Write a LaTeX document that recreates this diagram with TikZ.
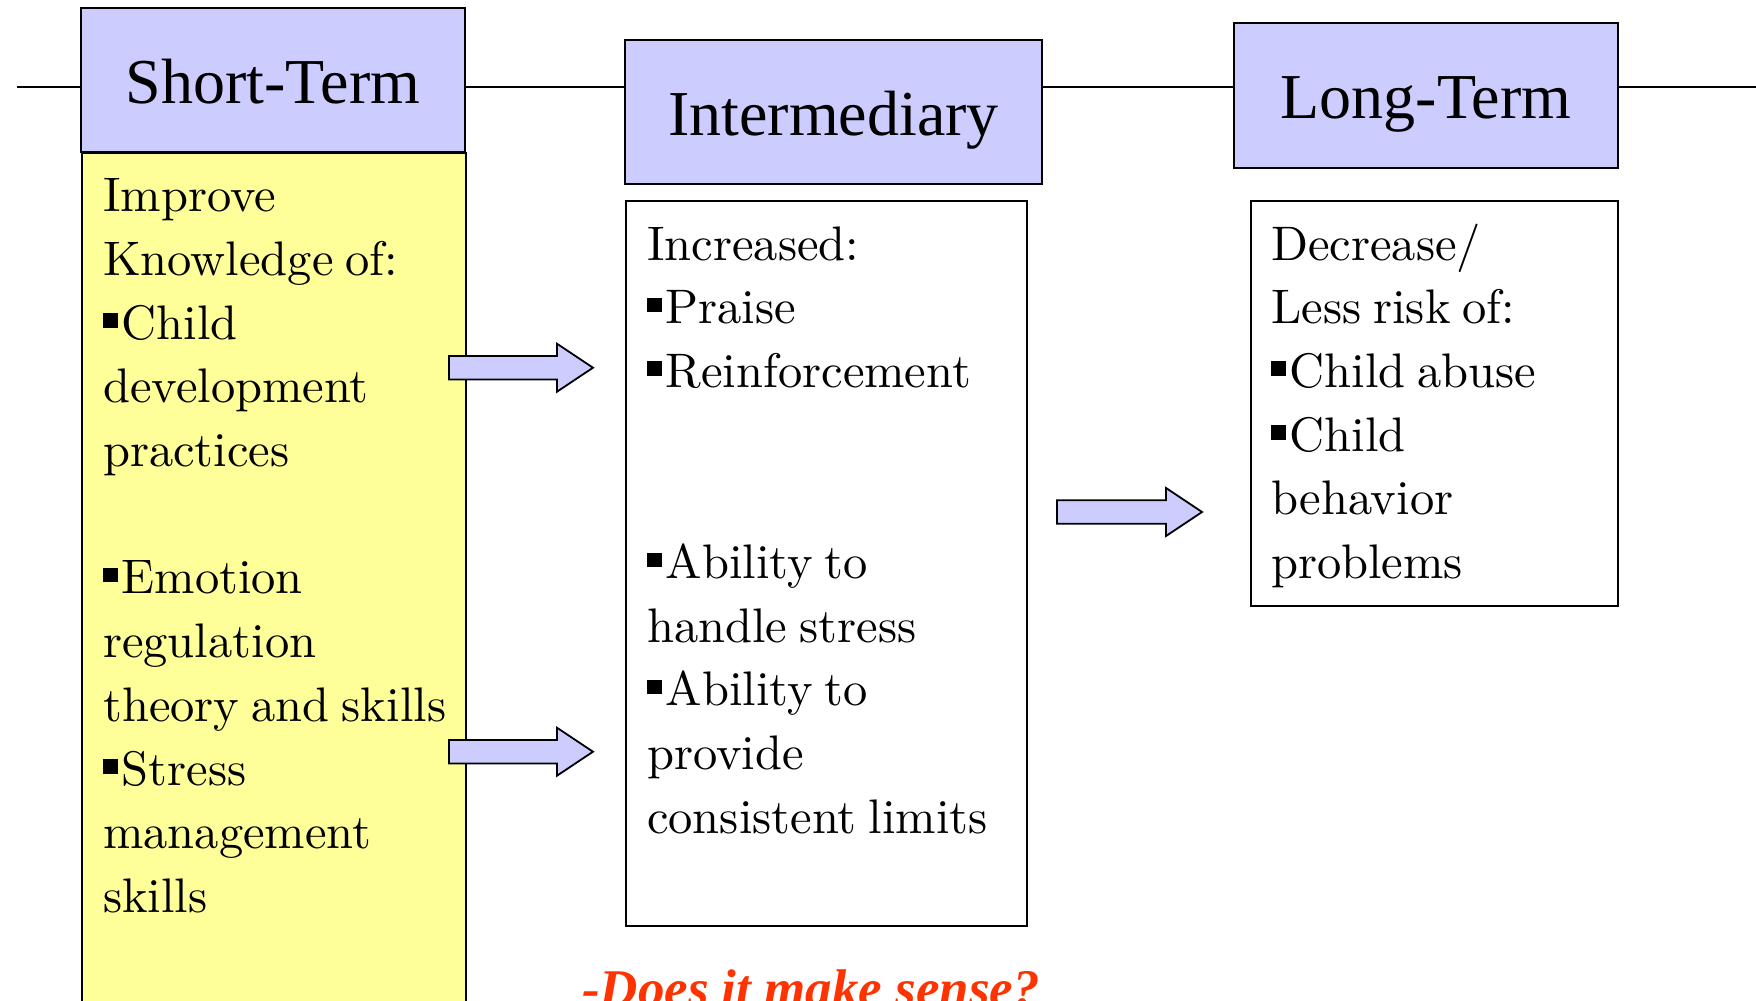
\documentclass[tikz,border=0pt]{standalone}
\usepackage{fontspec}
\newfontfamily\timesf{Liberation Serif}
\newfontfamily\lmten{lmroman10-regular}[Extension=.otf]
\definecolor{lav}{HTML}{CCCCFF}
\definecolor{pale}{HTML}{FFFF99}
\definecolor{redq}{HTML}{FF3300}
\newcommand\sqb{\rule[11.5pt]{14.5pt}{14.5pt}\hspace{4pt}}
\newcommand\tightsp{\spaceskip=0.25em plus 0.1em minus 0.05em\relax}
\begin{document}
\begin{tikzpicture}[x=1pt,y=-1pt,
  hdr/.style={draw=black, line width=2pt, fill=lav, inner sep=0pt, text height=46pt, text depth=0pt,
    font=\timesf\fontsize{64}{70}\selectfont},
  bodybox/.style={draw=black, line width=2pt, inner sep=0pt, anchor=north west},
  bodytext/.style={anchor=base west, inner sep=0pt, text width=420pt, align=left,
    font=\lmten\fontsize{48.5}{63.7}\selectfont},
  blockarrow/.style={draw=black, line width=1.8pt, fill=lav, line join=miter}]
\useasboundingbox (0,0) rectangle (1756,1001);
\clip (0,0) rectangle (1756,1001);
% timeline
\coordinate (ls) at (17,87);
\coordinate (le) at (1760,87);
\draw[line width=2.3pt] (ls) -- (le);
% body boxes
\node[bodybox, fill=pale, minimum width=384pt, minimum height=880pt] (stb) at (81,152) {};
\node[bodybox, fill=white, minimum width=401pt, minimum height=725pt] (imb) at (625,200) {};
\node[bodybox, fill=white, minimum width=367pt, minimum height=405pt] (ltb) at (1250,200) {};
% headers
\node[hdr, minimum width=384pt, minimum height=144pt] (st) at (273,80) {Short-Term};
\node[hdr, minimum width=417pt, minimum height=144pt] (im) at (833.5,112) {Intermediary};
\node[hdr, minimum width=384pt, minimum height=145pt] (lt) at (1426,95.5) {Long-Term};
% texts
\node[bodytext] (stt) at ([shift={(22pt,-59.7pt)}]stb.north west)
 {\tightsp Improve\\Knowledge of:\\\sqb Child\\development\\practices\\\mbox{}\\\sqb Emotion\\regulation\\theory and skills\\\sqb Stress\\management\\skills};
\node[bodytext] (imt) at ([shift={(22pt,-60pt)}]imb.north west)
 {\tightsp Increased:\\\sqb Praise\\\sqb Reinforcement\\\mbox{}\\\mbox{}\\\sqb Ability to\\handle stress\\\sqb Ability to\\provide\\consistent limits};
\node[bodytext] (ltt) at ([shift={(21pt,-60pt)}]ltb.north west)
 {\tightsp Decrease/\\Less risk of:\\\sqb Child abuse\\\sqb Child\\behavior\\problems};
% block arrows
\coordinate (a1) at (449,367.7);
\coordinate (a2) at (449,751.7);
\coordinate (a3) at (1057,512);
\draw[blockarrow] (a1) ++(0,-11.7) -- ++(108,0) -- ++(0,-12.3) -- ++(36,24) -- ++(-36,24) -- ++(0,-12.3) -- ++(-108,0) -- cycle;
\draw[blockarrow] (a2) ++(0,-11.7) -- ++(108,0) -- ++(0,-12.3) -- ++(36,24) -- ++(-36,24) -- ++(0,-12.3) -- ++(-108,0) -- cycle;
\draw[blockarrow] (a3) ++(0,-11.7) -- ++(109,0) -- ++(0,-12.3) -- ++(36,24) -- ++(-36,24) -- ++(0,-12.3) -- ++(-109,0) -- cycle;
% question
\node[font=\timesf\bfseries\itshape\fontsize{53}{60}\selectfont, text=redq, anchor=base, inner sep=0pt] (q) at (811,1006) {-Does it make sense?};
\end{tikzpicture}
\end{document}
